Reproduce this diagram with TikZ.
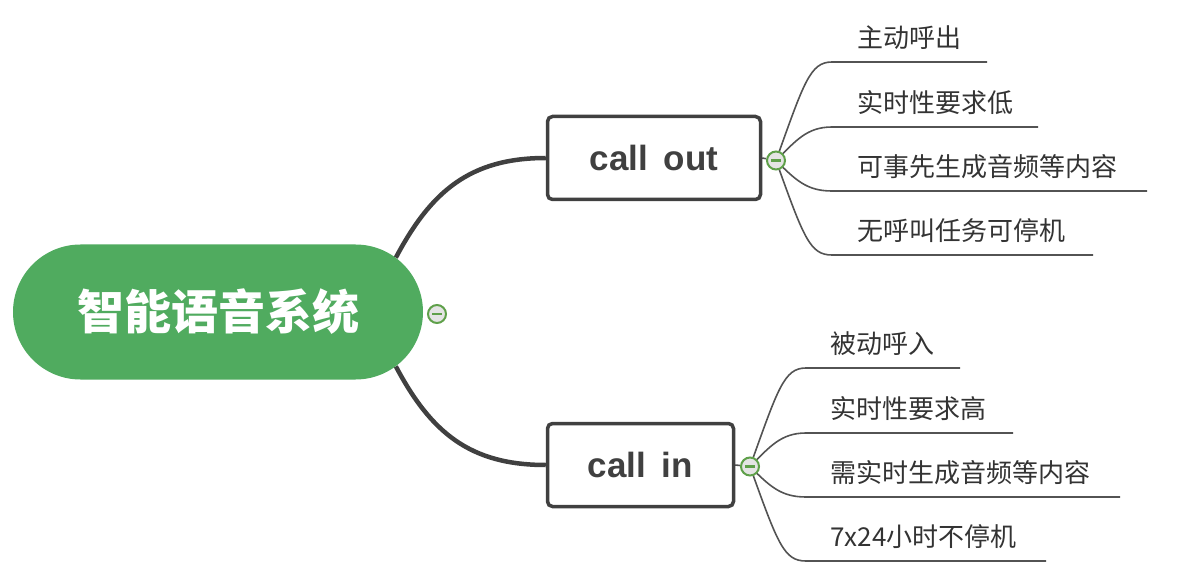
\documentclass[tikz,border=0pt]{standalone}
\usepackage{fontspec}
\newfontfamily\cjk{Noto Sans CJK SC}
\newfontfamily\lat{Liberation Sans}
\usetikzlibrary{shapes.misc,backgrounds}
\definecolor{rootgreen}{HTML}{50AB5F}
\definecolor{dark}{HTML}{404040}
\definecolor{txt}{HTML}{333333}
\definecolor{cgreen}{HTML}{5FA04A}
\definecolor{cfill}{HTML}{E4E4E4}
\tikzset{
  rootnode/.style={rounded rectangle, fill=rootgreen, minimum width=410pt, minimum height=135pt, inner sep=0pt, text=white, font=\cjk\bfseries\fontsize{47}{52}\selectfont},
  topicbox/.style={draw=dark, line width=3.5pt, rounded corners=5pt, fill=white, minimum height=83pt, inner sep=0pt, text=dark, font=\lat\bfseries\fontsize{35}{40}\selectfont},
  collapse/.style={circle, draw=cgreen, line width=2pt, fill=cfill, minimum size=18pt, inner sep=0pt,
    path picture={\draw[cgreen, line width=2.2pt] ([xshift=-5pt]path picture bounding box.center) -- ([xshift=5pt]path picture bounding box.center);}},
  subtext/.style={anchor=west, inner sep=0pt, text=txt, font=\cjk\fontsize{26}{30}\selectfont},
  mainline/.style={draw=dark, line width=4.5pt},
  subline/.style={draw=dark!90, line width=1.6pt},
}
\begin{document}
\begin{tikzpicture}[x=1pt,y=-1pt]
\useasboundingbox (0,0) rectangle (1178,588);
% root
\node[rootnode] (root) at (218,312) {智能语音系统};
\node[collapse] (rc) at (437,314) {};
% topics
\node[topicbox, minimum width=213pt] (co) at (654,158) {call\, out};
\node[topicbox, minimum width=186pt] (ci) at (640.5,465) {call\, in};
\node[collapse] (cco) at (776,160.5) {};
\node[collapse] (cci) at (750,466.5) {};
% upper subtopics
\coordinate (a1) at (832,62);  \coordinate (a1e) at (987,62);
\coordinate (a2) at (832,127); \coordinate (a2e) at (1038,127);
\coordinate (a3) at (832,191); \coordinate (a3e) at (1147,191);
\coordinate (a4) at (832,255); \coordinate (a4e) at (1093,255);
\node[subtext] (ta1) at (857,38) {主动呼出};
\node[subtext] (ta2) at (857,103) {实时性要求低};
\node[subtext] (ta3) at (857,167) {可事先生成音频等内容};
\node[subtext] (ta4) at (857,231) {无呼叫任务可停机};
% lower subtopics
\coordinate (b1) at (806,368); \coordinate (b1e) at (960,368);
\coordinate (b2) at (806,433); \coordinate (b2e) at (1013,433);
\coordinate (b3) at (806,497); \coordinate (b3e) at (1120,497);
\coordinate (b4) at (806,561); \coordinate (b4e) at (1046,561);
\node[subtext] (tb1) at (830,344) {被动呼入};
\node[subtext] (tb2) at (830,409) {实时性要求高};
\node[subtext] (tb3) at (830,473) {需实时生成音频等内容};
\node[subtext] (tb4) at (830,537) {7x24小时不停机};
\begin{scope}[on background layer]
  \draw[mainline] (root.17) .. controls +(35,-66) and +(-76,0) .. (co.west);
  \draw[mainline] (root.-17) .. controls +(35,66) and +(-76,0) .. (ci.west);
  \draw[subline] (co.east) -- (cco);
  \draw[subline] (ci.east) -- (cci);
  \draw[subline] (cco.center) .. controls +(28,-78) and +(-22,0) .. (a1) -- (a1e);
  \draw[subline] (cco.center) .. controls +(20,-20) and +(-25,0) .. (a2) -- (a2e);
  \draw[subline] (cco.center) .. controls +(20,20) and +(-25,0) .. (a3) -- (a3e);
  \draw[subline] (cco.center) .. controls +(28,78) and +(-22,0) .. (a4) -- (a4e);
  \draw[subline] (cci.center) .. controls +(28,-78) and +(-22,0) .. (b1) -- (b1e);
  \draw[subline] (cci.center) .. controls +(20,-20) and +(-25,0) .. (b2) -- (b2e);
  \draw[subline] (cci.center) .. controls +(20,20) and +(-25,0) .. (b3) -- (b3e);
  \draw[subline] (cci.center) .. controls +(28,78) and +(-22,0) .. (b4) -- (b4e);
\end{scope}
\end{tikzpicture}
\end{document}
